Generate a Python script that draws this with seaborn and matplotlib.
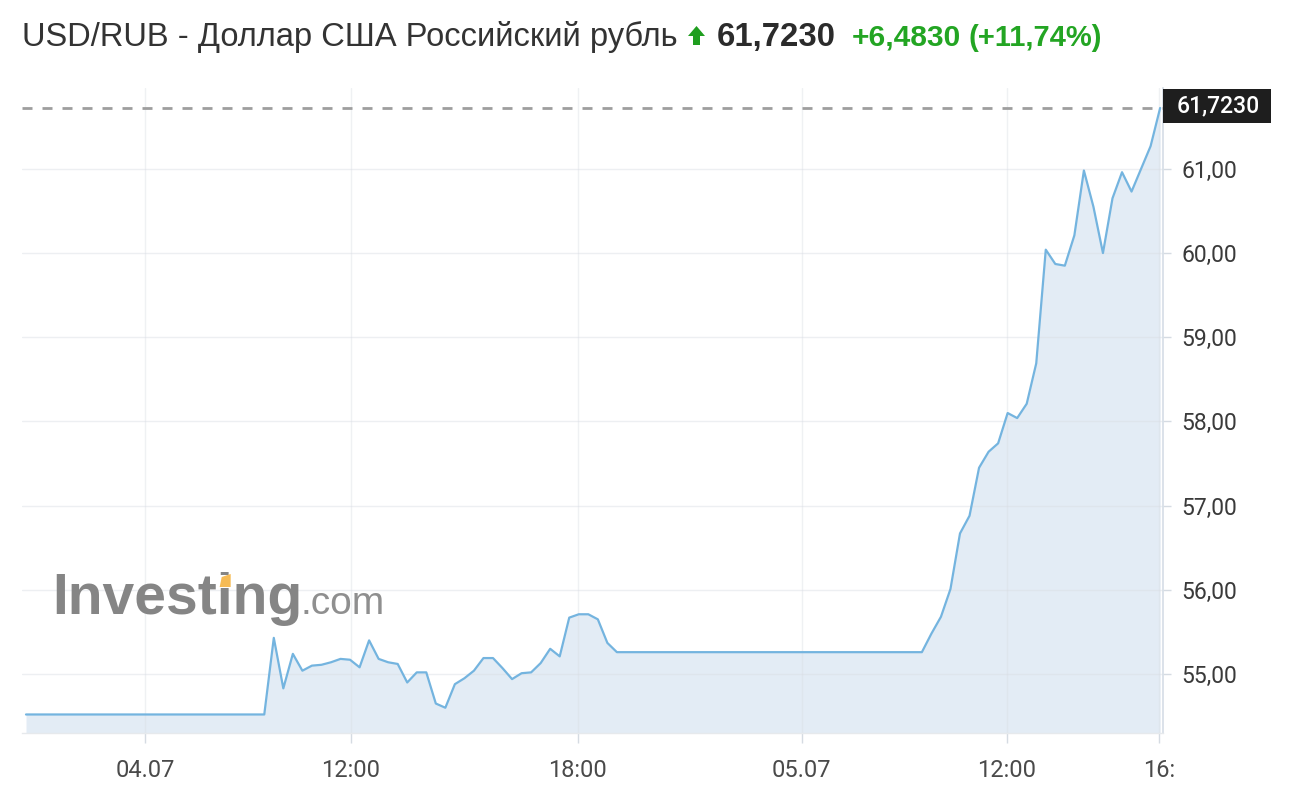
import numpy as np
import pandas as pd
import matplotlib
matplotlib.use("Agg")
import matplotlib.pyplot as plt
import seaborn as sns
from matplotlib.patches import Polygon, Rectangle

# ---------------- data ----------------
prices = [
    54.52, 54.52, 54.52, 54.52, 54.52, 54.52, 54.52, 54.52, 54.52, 54.52,
    54.52, 54.52, 54.52, 54.52, 54.52, 54.52, 54.52, 54.52, 54.52, 54.52,
    54.52, 54.52, 54.52, 54.52, 54.52, 54.52,
    55.43, 54.83, 55.24, 55.04, 55.10, 55.11, 55.14, 55.18, 55.17, 55.08,
    55.40, 55.18, 55.14, 55.12, 54.90, 55.02, 55.02, 54.65, 54.60, 54.88,
    54.95, 55.04, 55.19, 55.19, 55.07, 54.94, 55.01, 55.02, 55.13, 55.30,
    55.21, 55.67, 55.71, 55.71, 55.65, 55.37,
    55.26, 55.26, 55.26, 55.26, 55.26, 55.26, 55.26, 55.26, 55.26, 55.26,
    55.26, 55.26, 55.26, 55.26, 55.26, 55.26, 55.26, 55.26, 55.26, 55.26,
    55.26, 55.26, 55.26, 55.26, 55.26, 55.26, 55.26, 55.26, 55.26, 55.26,
    55.26, 55.26, 55.26,
    55.48, 55.68, 56.01, 56.67, 56.88, 57.45, 57.64, 57.74, 58.10, 58.04,
    58.21, 58.69, 60.04, 59.87, 59.85, 60.21, 60.98, 60.55, 60.00, 60.65,
    60.96, 60.73, 61.00, 61.27, 61.723,
]
xtick_pos = [12.5, 34.1, 57.9, 81.4, 102.9, 118.9]
xtick_labels = ["04.07", "12:00", "18:00", "05.07", "12:00", "16:"]
ytick_vals = [55, 56, 57, 58, 59, 60, 61]

title_name = "USD/RUB - Доллар США Российский рубль"
last_price = 61.723
last_price_txt = "61,7230"
change_txt = "+6,4830"
change_pct_txt = "(+11,74%)"

# ---------------- style ----------------
sns.set_theme(style="white")
plt.rcParams['font.family'] = ['Liberation Sans', 'DejaVu Sans']

W, H = 1300, 797
fig = plt.figure(figsize=(W / 100, H / 100), dpi=100)
fig.patch.set_facecolor("white")

def fx(px):
    return px / W

def fy(py):
    return 1 - py / H

ax = fig.add_axes([fx(22), fy(733), fx(1163) - fx(22), fy(88) - fy(733)])
ax.set_facecolor("white")

df = pd.DataFrame({"idx": np.arange(len(prices)), "price": prices})

ymin, ymax = 54.30, 61.96
ax.fill_between(df["idx"], df["price"], ymin - 1, color="#e3ecf5", zorder=1, linewidth=0)
sns.lineplot(data=df, x="idx", y="price", ax=ax, color="#74b4df", linewidth=1.6, zorder=3)

ax.set_xlim(-0.42, 119.3)
ax.set_ylim(ymin, ymax)

# grid
for v in ytick_vals:
    ax.axhline(v, color="#d8dde3", alpha=0.45, linewidth=1.0, zorder=2)
for p in xtick_pos:
    ax.axvline(p, color="#d8dde3", alpha=0.4, linewidth=1.0, zorder=2)

# last value dashed line
ax.axhline(last_price, color="#9e9e9e", linewidth=2.0, linestyle=(0, (3.6, 3.6)), zorder=4)

# axes / ticks
ax.yaxis.tick_right()
ax.set_yticks(ytick_vals)
ax.set_yticklabels([f"{v:.2f}".replace(".", ",") for v in ytick_vals])
ax.set_xticks(xtick_pos)
ax.set_xticklabels(xtick_labels)
ax.tick_params(axis="y", which="both", right=True, left=False, length=6, width=1,
               color="#d5dbe2", pad=7, labelsize=16.5, labelcolor="#3a3a3a")
ax.tick_params(axis="x", which="both", bottom=True, length=7, width=1,
               color="#d5dbe2", pad=12, labelsize=17, labelcolor="#4a4a4a")
for lbl in ax.get_yticklabels() + ax.get_xticklabels():
    lbl.set_fontfamily(["Roboto", "DejaVu Sans"])
ax.set_xlabel("")
ax.set_ylabel("")
for s in ["top", "left"]:
    ax.spines[s].set_visible(False)
ax.spines["right"].set_color("#d5dde6")
ax.spines["right"].set_linewidth(1.2)
ax.spines["bottom"].set_color("#e6e9ec")
ax.spines["bottom"].set_linewidth(1.0)

# last value box
fig.patches.append(Rectangle((fx(1163), fy(123)), fx(1271) - fx(1163), fy(89) - fy(123),
                             transform=fig.transFigure, facecolor="#1e1e1e", edgecolor="none", zorder=5))
fig.text(fx(1218), fy(106), last_price_txt, color="white", fontsize=16.5, ha="center", va="center",
         family=["Roboto", "DejaVu Sans"], fontweight="medium", zorder=6)

# watermark
wm_x, wm_base = 52, 614
wm = fig.text(fx(wm_x), fy(wm_base), "Investing", color="#858585", fontsize=41, fontweight="bold",
              ha="left", va="baseline", zorder=7)
fig.text(fx(300), fy(wm_base), ".com", color="#8f8f8f", fontsize=28, ha="left", va="baseline", zorder=7)

# orange i-dot: measure where the second "i" sits
renderer = fig.canvas.get_renderer()
probe = fig.text(0, 0, "Invest", fontsize=41, fontweight="bold")
w_invest = probe.get_window_extent(renderer).width
probe.set_text("Investi")
w_investi = probe.get_window_extent(renderer).width
probe.remove()
i_left = wm_x + w_invest
i_w = w_investi - w_invest
dot_size = 11
dot_x0 = i_left + (i_w - dot_size) / 2 + 0.5
fig.patches.append(Rectangle((fx(dot_x0 - 0.5), fy(588)), fx(dot_size + 1), fy(0) - fy(13),
                             transform=fig.transFigure, facecolor="white", edgecolor="none", zorder=8))
fig.patches.append(Polygon([[fx(dot_x0), fy(587)], [fx(dot_x0 + dot_size), fy(587)],
                            [fx(dot_x0 + dot_size), fy(574)], [fx(dot_x0 + 2), fy(577)]],
                           closed=True, transform=fig.transFigure,
                           facecolor="#f6bb55", edgecolor="none", zorder=9))

# title
fig.text(fx(22), fy(46), title_name, color="#333333", fontsize=23.5, ha="left", va="baseline")
arrow = Polygon([[fx(696.5), fy(26)], [fx(705), fy(36)], [fx(700), fy(36)], [fx(700), fy(45)],
                 [fx(693), fy(45)], [fx(693), fy(36)], [fx(688), fy(36)]],
                closed=True, transform=fig.transFigure, facecolor="#1f9e1f", edgecolor="none")
fig.patches.append(arrow)
fig.text(fx(717), fy(46), last_price_txt, color="#2b2b2b", fontsize=23.7, fontweight="bold",
         ha="left", va="baseline")
fig.text(fx(852), fy(46), change_txt, color="#23a523", fontsize=21.5, fontweight="bold",
         ha="left", va="baseline")
fig.text(fx(969), fy(46), change_pct_txt, color="#23a523", fontsize=21, fontweight="bold",
         ha="left", va="baseline")

fig.savefig("out.png", dpi=100, facecolor="white")
